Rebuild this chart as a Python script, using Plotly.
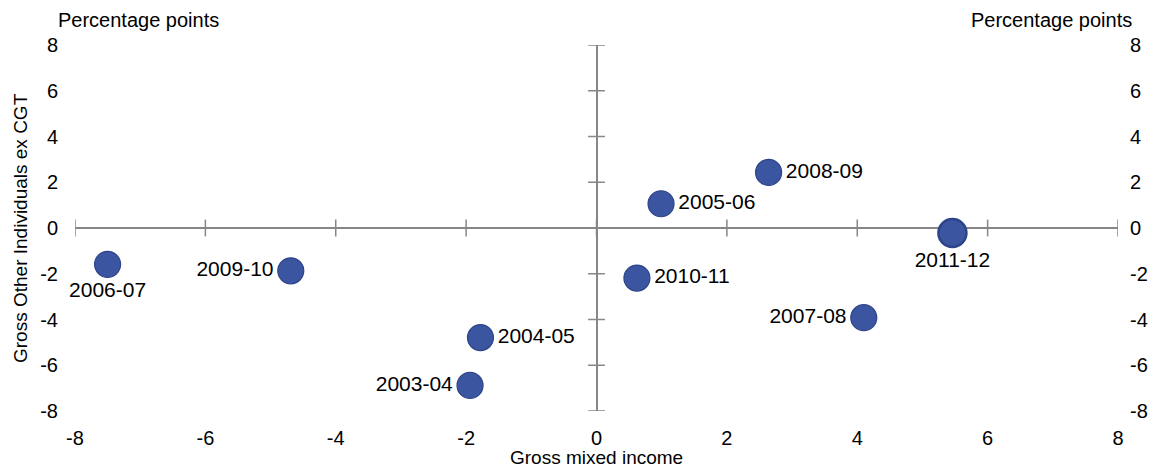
import plotly.graph_objects as go

# =========================
# DATA
# =========================
years = ["2003-04", "2004-05", "2005-06", "2006-07", "2007-08",
         "2008-09", "2009-10", "2010-11", "2011-12"]
gross_mixed_income = [-1.94, -1.78, 0.99, -7.50, 4.10, 2.64, -4.69, 0.62, 5.46]
gross_other_ind = [-6.88, -4.79, 1.06, -1.59, -3.92, 2.43, -1.87, -2.19, -0.22]
label_pos = ["middle left", "middle right", "middle right", "bottom center",
             "middle left", "middle right", "middle left", "middle right",
             "bottom center"]

tick_vals = [-8, -6, -4, -2, 0, 2, 4, 6, 8]
tick_text = [str(v) for v in tick_vals]

FONT = "Liberation Sans, Arial, sans-serif"
AXIS_GREY = "#878787"
DOT = "#3B55A0"
DOT_EDGE = "#2D4488"
FS = 20

fig = go.Figure()

# cross-shaped axes: tick marks sitting on the zero lines
fig.add_trace(go.Scatter(
    x=tick_vals, y=[0] * len(tick_vals), mode="markers",
    marker=dict(symbol="line-ns", size=12, line=dict(color=AXIS_GREY, width=1.5)),
    hoverinfo="skip", showlegend=False
))
fig.add_trace(go.Scatter(
    x=[0] * len(tick_vals), y=tick_vals, mode="markers",
    marker=dict(symbol="line-ew", size=12, line=dict(color=AXIS_GREY, width=1.5)),
    hoverinfo="skip", showlegend=False, yaxis="y2"
))

# =========================
# SCATTER POINTS
# =========================
sizes = [26] * (len(years) - 1) + [28]
edges = [1.2] * (len(years) - 1) + [2.5]
fig.add_trace(go.Scatter(
    x=gross_mixed_income, y=gross_other_ind,
    mode="markers+text", cliponaxis=False,
    text=years, textposition=label_pos,
    textfont=dict(family=FONT, size=21, color="#000000"),
    marker=dict(size=sizes, color=DOT, opacity=1,
                line=dict(color=DOT_EDGE, width=edges)),
    showlegend=False
))

axis_common = dict(
    range=[-8, 8], tickvals=tick_vals, ticktext=tick_text,
    showgrid=False, showline=False, ticks="", automargin=False,
    zeroline=True, zerolinecolor=AXIS_GREY, zerolinewidth=2,
    tickfont=dict(family=FONT, size=FS, color="#000000"),
)

# page body adds an 8px margin, so the figure is offset by 8px
fig.update_layout(
    width=1147, height=462,
    margin=dict(l=67, r=37, t=37, b=59),
    plot_bgcolor="white", paper_bgcolor="white",
    font=dict(family=FONT, size=FS, color="#000000"),
    xaxis=dict(**axis_common, ticklabelstandoff=13),
    yaxis=dict(**axis_common, ticklabelstandoff=16),
    yaxis2=dict(range=[-8, 8], tickvals=tick_vals, ticktext=tick_text,
                overlaying="y", side="right", showgrid=False, zeroline=False,
                showline=False, ticks="", automargin=False,
                ticklabelstandoff=11,
                tickfont=dict(family=FONT, size=FS, color="#000000")),
)

# =========================
# TITLES
# =========================
fig.add_annotation(text="Percentage points", x=0, y=1.0, xref="paper",
                   yref="paper", xanchor="left", yanchor="bottom",
                   xshift=-19, yshift=12, showarrow=False,
                   font=dict(family=FONT, size=FS))
fig.add_annotation(text="Percentage points", x=1.0, y=1.0, xref="paper",
                   yref="paper", xanchor="right", yanchor="bottom",
                   xshift=16, yshift=12, showarrow=False,
                   font=dict(family=FONT, size=FS))
fig.add_annotation(text="Gross mixed income", x=0.5, y=0, xref="paper",
                   yref="paper", xanchor="center", yanchor="top",
                   yshift=-34, showarrow=False,
                   font=dict(family=FONT, size=19))
fig.add_annotation(text="Gross Other Individuals ex CGT", x=0, y=0.5,
                   xref="paper", yref="paper", textangle=-90,
                   xanchor="center", yanchor="middle", xshift=-55,
                   showarrow=False, font=dict(family=FONT, size=19))

fig.write_html("out.html")
